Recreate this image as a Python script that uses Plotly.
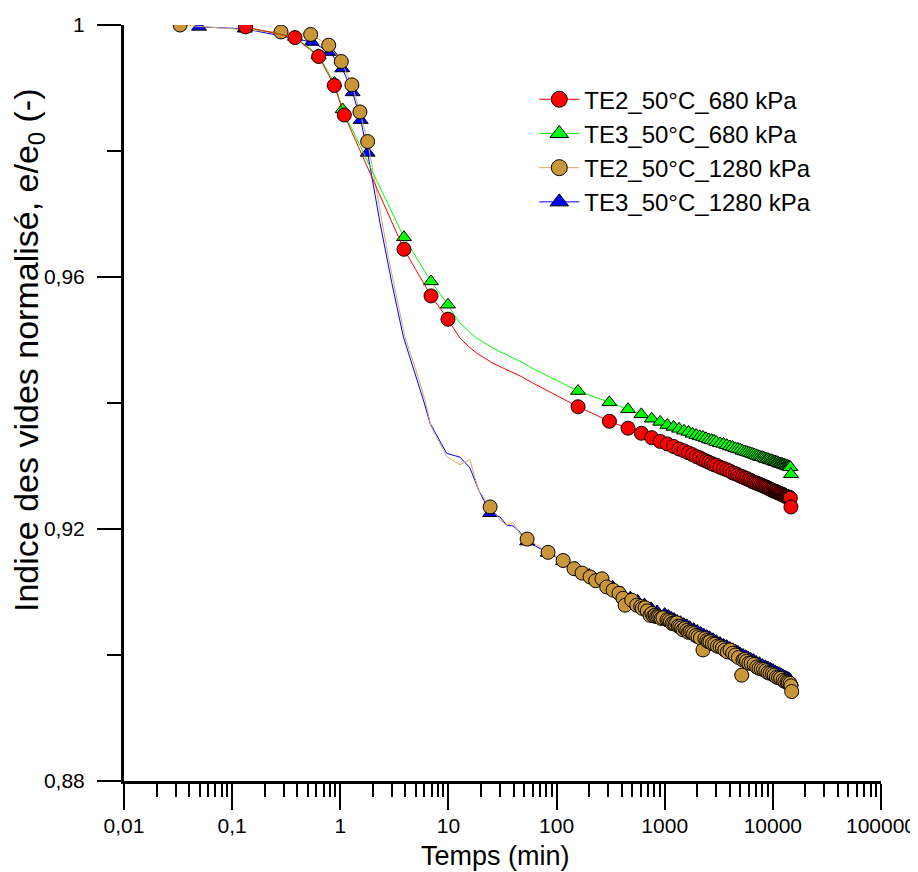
import plotly.graph_objects as go

# ---------------- data (time in min, normalised void ratio e/e0) ----------------
# TE2_50°C_680 kPa : marker points
te2_680_t = [0.133, 0.381, 0.631, 0.881, 1.089, 3.88, 6.9, 9.9,
             158, 308, 458, 608, 758, 908, 1058, 1208, 1358, 1508, 1658, 1808, 1958, 2108, 2258, 2408, 2558, 2708, 2858, 3008,
             3250, 3500, 3750, 4000, 4250, 4500, 4750, 5000, 5250, 5500, 5750, 6000,
             6250, 6500, 6750, 7000, 7250, 7500, 7750, 8000, 8250, 8500, 8750, 9000,
             9250, 9500, 9750, 10000, 10250, 10500, 10750, 11000, 11250, 11500, 11750, 12000,
             12250, 12500, 12750, 13000, 13250, 13500, 13750, 14000, 14250, 14500, 14700]
te2_680_e = [0.9997, 0.9980, 0.9950, 0.9904, 0.9857, 0.9644, 0.9570, 0.9533,
             0.9394, 0.9371, 0.9360, 0.9352, 0.9345, 0.9339, 0.9335, 0.9331, 0.9327, 0.9324, 0.9321, 0.9318, 0.9315, 0.9313, 0.9310, 0.9308, 0.9306, 0.9304, 0.9302, 0.9301,
             0.9298, 0.9296, 0.9294, 0.9292, 0.9289, 0.9288, 0.9286, 0.9284, 0.9283, 0.9281, 0.9280, 0.9278,
             0.9277, 0.9275, 0.9274, 0.9273, 0.9272, 0.9271, 0.9270, 0.9269, 0.9268, 0.9267, 0.9266, 0.9265,
             0.9264, 0.9263, 0.9262, 0.9261, 0.9260, 0.9260, 0.9259, 0.9258, 0.9257, 0.9257, 0.9256, 0.9255,
             0.9255, 0.9254, 0.9253, 0.9252, 0.9252, 0.9251, 0.9251, 0.9250, 0.9250, 0.9249, 0.9235]
# extra points of the continuous curve (no marker)
te2_680_line_t = [11.2, 12.8, 15.3, 18.3, 25.8, 37.1, 45.9, 63.0, 86.9, 120.0]
te2_680_line_e = [0.9518, 0.9503, 0.9490, 0.9479, 0.9463, 0.9450, 0.9443, 0.9430, 0.9417, 0.9405]

# TE3_50°C_680 kPa
te3_680_t = [0.133, 0.381, 0.631, 0.881, 1.05, 3.88, 6.9, 9.9,
             158, 308, 458, 608, 758, 908, 1058, 1208, 1358, 1508, 1658, 1808, 1958, 2108, 2258, 2408, 2558, 2708, 2858, 3008,
             3250, 3500, 3750, 4000, 4250, 4500, 4750, 5000, 5250, 5500, 5750, 6000,
             6250, 6500, 6750, 7000, 7250, 7500, 7750, 8000, 8250, 8500, 8750, 9000,
             9250, 9500, 9750, 10000, 10250, 10500, 10750, 11000, 11250, 11500, 11750, 12000,
             12250, 12500, 12750, 13000, 13250, 13500, 13750, 14000, 14250, 14500, 14700]
te3_680_e = [0.9996, 0.9981, 0.9952, 0.9908, 0.9866, 0.9663, 0.9593, 0.9556,
             0.9419, 0.9401, 0.9390, 0.9382, 0.9375, 0.9370, 0.9365, 0.9362, 0.9359, 0.9356, 0.9354, 0.9351, 0.9349, 0.9347, 0.9346, 0.9344, 0.9342, 0.9341, 0.9340, 0.9338,
             0.9336, 0.9335, 0.9333, 0.9331, 0.9330, 0.9328, 0.9327, 0.9326, 0.9324, 0.9323, 0.9322, 0.9321,
             0.9320, 0.9319, 0.9318, 0.9317, 0.9316, 0.9315, 0.9314, 0.9314, 0.9313, 0.9312, 0.9311, 0.9311,
             0.9310, 0.9309, 0.9309, 0.9308, 0.9307, 0.9307, 0.9306, 0.9306, 0.9305, 0.9304, 0.9304, 0.9303,
             0.9303, 0.9302, 0.9302, 0.9301, 0.9301, 0.9300, 0.9300, 0.9299, 0.9299, 0.9298, 0.9287]
te3_680_line_t = [11.2, 12.8, 15.3, 18.3, 25.8, 37.1, 45.9, 63.0, 86.9, 120.0]
te3_680_line_e = [0.9541, 0.9527, 0.9514, 0.9503, 0.9487, 0.9474, 0.9466, 0.9453, 0.9441, 0.9430]

# TE2_50°C_1280 kPa
te2_1280_t = [0.033, 0.283, 0.532, 0.782, 1.022, 1.28, 1.52, 1.79,
              24.3, 53.4, 83.4, 115, 145, 172, 204, 230, 263, 291,
              333, 378, 411, 430, 495, 551, 600, 620, 658, 690, 731, 760, 790,
              815, 843, 870, 900, 930, 964, 1050, 1090, 1130, 1170, 1210, 1250, 1291, 1335, 1380, 1430, 1476, 1540, 1600,
              1660, 1714, 1780, 1850, 1940, 2032, 2140, 2259, 2350, 2450, 2540, 2623, 2760, 2900, 3070, 3246, 3420, 3600, 3800, 4016,
              4250, 4500, 4800, 5155, 5297, 5500, 5700, 6000, 6300, 6700, 7096, 7450, 7800, 8200, 8600, 9000, 9419, 9900, 10300,
              10800, 11300, 11800, 12420, 12900, 13500, 13900, 14400, 14700, 14930]
te2_1280_e = [1.0000, 0.9989, 0.9985, 0.9968, 0.9942, 0.9905, 0.9862, 0.9815,
              0.9235, 0.9184, 0.9163, 0.9150, 0.9137, 0.9130, 0.9124, 0.9118, 0.9121, 0.9108,
              0.9103, 0.9098, 0.9090, 0.9079, 0.9087, 0.9079, 0.9077, 0.9074, 0.9075, 0.9070, 0.9063, 0.9066, 0.9062,
              0.9063, 0.9061, 0.9061, 0.9060, 0.9058, 0.9059, 0.9056, 0.9055, 0.9053, 0.9050, 0.9050, 0.9049, 0.9051, 0.9046, 0.9045, 0.9043, 0.9040, 0.9042, 0.9039,
              0.9036, 0.9037, 0.9036, 0.9034, 0.9031, 0.9029, 0.9027, 0.9008, 0.9026, 0.9023, 0.9021, 0.9021, 0.9018, 0.9017, 0.9014, 0.9013, 0.9011, 0.9008, 0.9005, 0.9008,
              0.9003, 0.9000, 0.8996, 0.8968, 0.8992, 0.8993, 0.8990, 0.8987, 0.8987, 0.8985, 0.8981, 0.8979, 0.8978, 0.8977, 0.8975, 0.8972, 0.8971, 0.8970, 0.8968,
              0.8965, 0.8964, 0.8963, 0.8960, 0.8958, 0.8957, 0.8956, 0.8955, 0.8951, 0.8942]
te2_1280_line_t = [2.42, 2.78, 3.15, 3.96, 4.91, 6.07, 6.90, 9.64, 12.8, 15.8, 18.9, 30.0, 34.6, 39.6, 45.9]
te2_1280_line_e = [0.9686, 0.9632, 0.9587, 0.9505, 0.9457, 0.9405, 0.9363, 0.9315, 0.9302, 0.9310, 0.9262, 0.9214, 0.9206, 0.9210, 0.9192]

# TE3_50°C_1280 kPa
te3_1280_t = [0.0494, 0.131, 0.544, 0.804, 1.044, 1.30, 1.545, 1.79,
              24.3, 53.4, 83, 115, 150, 200, 260, 330, 400, 480,
              560, 650, 750, 850, 1000, 1080, 1150, 1220, 1300, 1400, 1500, 1600, 1700, 1850, 2000,
              2150, 2300, 2450, 2600, 2800, 3000, 3250, 3500, 3750, 4000, 4250, 4500, 4750, 5000,
              5300, 5600, 5900, 6200, 6600, 7000, 7500, 8000, 8500, 9000, 9500, 10000,
              10500, 11000, 11500, 12000, 12500, 13000, 13500, 14000, 14350, 14700]
te3_1280_e = [0.9997, 0.9994, 0.9973, 0.9957, 0.9931, 0.9893, 0.9849, 0.9797,
              0.9225, 0.9180, 0.9162, 0.9149, 0.9138, 0.9127, 0.9119, 0.9108, 0.9099, 0.9091,
              0.9086, 0.9080, 0.9074, 0.9069, 0.9065, 0.9062, 0.9059, 0.9057, 0.9054, 0.9052, 0.9049, 0.9047, 0.9044, 0.9041, 0.9038,
              0.9035, 0.9032, 0.9030, 0.9028, 0.9025, 0.9022, 0.9019, 0.9016, 0.9014, 0.9011, 0.9009, 0.9007, 0.9005, 0.9002,
              0.9000, 0.8998, 0.8996, 0.8994, 0.8992, 0.8989, 0.8987, 0.8984, 0.8982, 0.8980, 0.8978, 0.8976,
              0.8974, 0.8972, 0.8971, 0.8969, 0.8967, 0.8966, 0.8964, 0.8963, 0.8961, 0.8957]
te3_1280_line_t = [2.33, 2.69, 3.0, 3.83, 4.73, 5.86, 6.76, 9.64, 12.8, 15.8, 18.9, 30.0, 34.6, 39.6, 45.9]
te3_1280_line_e = [0.9686, 0.9632, 0.9590, 0.9505, 0.9457, 0.9405, 0.9368, 0.9320, 0.9314, 0.9297, 0.9263, 0.9219, 0.9206, 0.9205, 0.9195]

x_tickvals = [0.01, 0.1, 1, 10, 100, 1000, 10000, 100000]
x_ticktext = ["0,01", "0,1", "1", "10", "100", "1000", "10000", "100000"]
y_tickvals = [0.88, 0.92, 0.96, 1.0]
y_ticktext = ["0,88", "0,92", "0,96", "1"]
y_minorvals = [0.90, 0.94, 0.98]
x_title = "Temps (min)"
y_title = "Indice des vides normalisé, e/e<sub>0</sub> (-)"

series = [
    # name, marker t, marker e, line-only t, line-only e, symbol, fill, line colour, marker size
    ("TE3_50°C_1280 kPa", te3_1280_t, te3_1280_e, te3_1280_line_t, te3_1280_line_e, "triangle-up", "#0000FF", "#0000FF", 13),
    ("TE2_50°C_1280 kPa", te2_1280_t, te2_1280_e, te2_1280_line_t, te2_1280_line_e, "circle", "#C9973A", "#D9A85E", 14),
    ("TE3_50°C_680 kPa", te3_680_t, te3_680_e, te3_680_line_t, te3_680_line_e, "triangle-up", "#00FF00", "#00FF00", 13),
    ("TE2_50°C_680 kPa", te2_680_t, te2_680_e, te2_680_line_t, te2_680_line_e, "circle", "#FF0000", "#FF0000", 14),
]

FONT = "Liberation Sans, Arial, sans-serif"
fig = go.Figure()

for name, mt, me, lt, le, sym, fill, lcol, ms in series:
    pts = sorted(zip(list(mt) + list(lt), list(me) + list(le)))
    fig.add_trace(go.Scatter(x=[p[0] for p in pts], y=[p[1] for p in pts], mode="lines",
                             line=dict(color=lcol, width=1),
                             showlegend=False, hoverinfo="skip"))
    fig.add_trace(go.Scatter(x=mt, y=me, mode="markers", name=name, showlegend=False,
                             marker=dict(symbol=sym, size=ms, color=fill,
                                         line=dict(color="black", width=1))))

# legend entries (in the reference order)
for name, mt, me, lt, le, sym, fill, lcol, ms in reversed(series):
    fig.add_trace(go.Scatter(x=[None], y=[None], mode="lines+markers", name=name,
                             line=dict(color=lcol, width=1),
                             marker=dict(symbol=sym, size=16, color=fill,
                                         line=dict(color="black", width=1))))

minor_x = [m * 10 ** k for k in range(-2, 5) for m in range(2, 10)]

# the page body has an 8px margin, so the figure is 8px smaller than the window
fig.update_layout(
    width=910, height=864,
    margin=dict(l=116, r=37, t=17, b=91),
    paper_bgcolor="white", plot_bgcolor="white",
    font=dict(family=FONT, color="black"),
    showlegend=True,
    legend=dict(x=0.542, y=0.931, xanchor="left", yanchor="top",
                font=dict(family=FONT, size=24, color="black"),
                bgcolor="rgba(0,0,0,0)", itemwidth=40),
    xaxis=dict(type="log", range=[-2, 5], showgrid=False, zeroline=False, automargin=False,
               showline=True, linecolor="black", linewidth=3,
               ticks="outside", ticklen=26, tickwidth=2, tickcolor="black",
               tickvals=x_tickvals, ticktext=x_ticktext,
               tickfont=dict(family=FONT, size=21, color="black"),
               ticklabelstandoff=-2,
               minor=dict(tickvals=minor_x, ticks="outside", ticklen=13, tickwidth=2, tickcolor="black",
                          showgrid=False)),
    yaxis=dict(range=[0.88, 1.0], showgrid=False, zeroline=False, automargin=False,
               showline=True, linecolor="black", linewidth=3,
               ticks="outside", ticklen=24, tickwidth=2, tickcolor="black",
               tickvals=y_tickvals, ticktext=y_ticktext,
               tickfont=dict(family=FONT, size=21, color="black"),
               ticklabelstandoff=8,
               minor=dict(tickvals=y_minorvals, ticks="outside", ticklen=14, tickwidth=2, tickcolor="black",
                          showgrid=False)),
    annotations=[
        dict(text=x_title, xref="paper", yref="paper", x=0.4908, y=0, xanchor="center", yanchor="middle",
             yshift=-75, showarrow=False, font=dict(family=FONT, size=27, color="black")),
        dict(text=y_title, xref="paper", yref="paper", x=0, y=0.5688, xanchor="center", yanchor="middle",
             xshift=-95, textangle=-90, showarrow=False, font=dict(family=FONT, size=34, color="black")),
    ],
)

fig.write_html("out.html")
